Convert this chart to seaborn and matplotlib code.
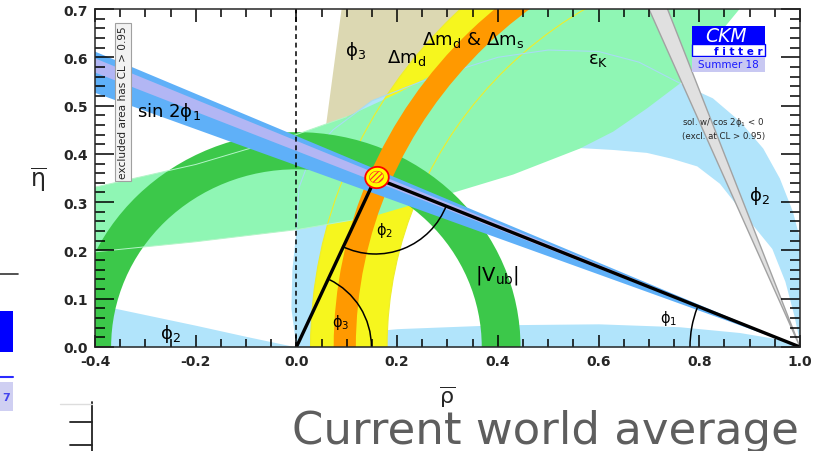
import numpy as np
import matplotlib
matplotlib.use("Agg")
import matplotlib.pyplot as plt
from matplotlib.patches import Wedge, Polygon, Ellipse, Rectangle, Arc
from matplotlib.lines import Line2D
import seaborn as sns

# ---------------- constraint data in the (rho-bar, eta-bar) plane ----------------
triangle_rho = [0.0, 0.157, 1.0]
triangle_eta = [0.0, 0.350, 0.0]

vub_radii = (0.368, 0.445)            # |Vub| ring around (0, 0)
dmd_radii = (0.820, 0.972)            # Δm_d ring around (1, 0)
dms_radii = (0.882, 0.926)            # Δm_d & Δm_s ring around (1, 0)
phi3_deg = (65.0, 82.7)               # φ3 wedge opening from (0, 0)
sin2phi1_slope = (0.376, 0.437)       # η / (1 - ρ) limits of the sin 2φ1 band
sin2phi1_core_slope = (0.406, 0.427)
cos2phi1_neg_deg = (66.8, 69.4)       # excluded cos 2φ1 < 0 solution, from (1, 0)

# εK band edges
epsk_low_rho = [-0.40, -0.20, 0.00, 0.15, 0.30, 0.43, 0.563, 0.629, 0.696, 0.762, 0.827, 0.88]
epsk_low_eta = [0.197, 0.218, 0.243, 0.270, 0.316, 0.357, 0.411, 0.446, 0.494, 0.546, 0.633, 0.70]
epsk_up_rho = [-0.40, -0.20, 0.00, 0.10, 0.20, 0.30, 0.40, 0.457]
epsk_up_eta = [0.331, 0.378, 0.440, 0.477, 0.525, 0.580, 0.653, 0.700]

# φ2 main region: outer and inner edges
phi2_out_rho = [0.000, -0.010, -0.008, 0.000, 0.005, 0.030, 0.073, 0.150, 0.246, 0.400,
                0.500, 0.600, 0.680, 0.762, 0.827, 0.881, 0.927, 0.960, 0.986, 1.000]
phi2_out_eta = [0.000, 0.080, 0.160, 0.240, 0.330, 0.400, 0.450, 0.510, 0.549, 0.600,
                0.615, 0.612, 0.590, 0.546, 0.515, 0.467, 0.411, 0.349, 0.280, 0.224]
phi2_in_rho = [1.000, 0.989, 0.971, 0.945, 0.891, 0.841, 0.796, 0.745, 0.696, 0.630,
               0.563, 0.450, 0.300, 0.200, 0.150, 0.100, 0.060]
phi2_in_eta = [0.010, 0.064, 0.135, 0.203, 0.272, 0.338, 0.374, 0.390, 0.402, 0.408,
               0.412, 0.370, 0.322, 0.290, 0.200, 0.100, 0.000]
# φ2 lower-left wedge and bottom strip
phi2_ll_rho = [-0.40, -0.30, -0.20, -0.10, 0.00]
phi2_ll_eta = [0.089, 0.067, 0.045, 0.022, 0.000]
phi2_bot_rho = [0.00, 0.02, 0.10, 0.20, 0.40, 0.60, 0.76, 0.88, 0.96, 1.00]
phi2_bot_eta = [0.000, 0.012, 0.028, 0.038, 0.046, 0.048, 0.042, 0.030, 0.016, 0.000]

x_ticks = [-0.4, -0.2, 0.0, 0.2, 0.4, 0.6, 0.8, 1.0]
y_ticks = [0.0, 0.1, 0.2, 0.3, 0.4, 0.5, 0.6, 0.7]

# ---------------- colours ----------------
C_PHI2 = "#b1e4fb"
C_PHI3 = "#dcd8b2"
C_DMD = "#f6f61e"
C_DMS = "#ff9900"
C_EPSK = "#8ff6b4"
C_VUB = "#3cc84a"
C_S2B = "#5fb0f8"
C_S2B_CORE = "#b2b6f4"

sns.set_style("ticks")
plt.rcParams["font.family"] = ["DejaVu Sans"]
plt.rcParams["mathtext.fontset"] = "dejavusans"
plt.rcParams["hatch.linewidth"] = 0.8

W, H = 816, 452
fig = plt.figure(figsize=(W / 100, H / 100), dpi=100)
ax = fig.add_axes([95 / W, (H - 348) / H, 705 / W, 338 / H])
ax.set_xlim(-0.4, 1.0)
ax.set_ylim(0.0, 0.7)


def deg(s):
    return np.degrees(np.arctan(s))


# φ3 wedge (lowest layer)
ax.add_patch(Wedge((0, 0), 1.2, phi3_deg[0], phi3_deg[1], fc=C_PHI3, ec="none", zorder=1))

# φ2 regions
ax.add_patch(Polygon(np.column_stack([phi2_out_rho + phi2_in_rho, phi2_out_eta + phi2_in_eta]),
                     closed=True, fc=C_PHI2, ec="none", zorder=2))
ax.fill_between(phi2_ll_rho, 0, phi2_ll_eta, color=C_PHI2, lw=0, zorder=2)
ax.fill_between(phi2_bot_rho, 0, phi2_bot_eta, color=C_PHI2, lw=0, zorder=2)

# Δm_d ring
ax.add_patch(Wedge((1, 0), dmd_radii[1], 90, 180, width=dmd_radii[1] - dmd_radii[0],
                   fc=C_DMD, ec="none", zorder=3))

# εK band
epsk_xy = np.vstack([np.column_stack([epsk_low_rho, epsk_low_eta]),
                     [[epsk_low_rho[-1], 0.75], [epsk_up_rho[-1], 0.75]],
                     np.column_stack([epsk_up_rho[::-1], epsk_up_eta[::-1]])])
ax.add_patch(Polygon(epsk_xy, closed=True, fc=C_EPSK, ec="none", zorder=4))

# contour edges seen through the εK band
for r in dmd_radii:
    ax.add_patch(Arc((1, 0), 2 * r, 2 * r, theta1=90, theta2=180, color="#eeee2a", lw=0.8, zorder=4.5))
ax.plot(phi2_out_rho[3:14], phi2_out_eta[3:14], color="#a8dcf2", lw=0.8, zorder=4.5)

# |Vub| ring
ax.add_patch(Wedge((0, 0), vub_radii[1], 0, 180, width=vub_radii[1] - vub_radii[0],
                   fc=C_VUB, ec="none", zorder=5))
# εK edges seen through the |Vub| ring
ax.plot(epsk_low_rho[:4], epsk_low_eta[:4], color="#b4f5c8", lw=0.7, zorder=5.5)
ax.plot(epsk_up_rho[:4], epsk_up_eta[:4], color="#b4f5c8", lw=0.7, zorder=5.5)

# Δm_d & Δm_s ring
ax.add_patch(Wedge((1, 0), dms_radii[1], 90, 180, width=dms_radii[1] - dms_radii[0],
                   fc=C_DMS, ec="none", zorder=6))

# sin 2φ1 band
ax.add_patch(Wedge((1, 0), 1.8, 180 - deg(sin2phi1_slope[1]), 180 - deg(sin2phi1_slope[0]),
                   fc=C_S2B, ec="none", zorder=7))
ax.add_patch(Wedge((1, 0), 1.8, 180 - deg(sin2phi1_core_slope[1]), 180 - deg(sin2phi1_core_slope[0]),
                   fc=C_S2B_CORE, ec="none", zorder=7))

# excluded cos 2φ1 < 0 solution
ax.add_patch(Wedge((1, 0), 0.9, 180 - cos2phi1_neg_deg[1], 180 - cos2phi1_neg_deg[0],
                   fc="#e0e0e0", ec="#a2a2a2", lw=1.0, zorder=8))

# dashed line at rho = 0
ax.plot([0, 0], [0, 0.7], color="black", lw=1.1, ls=(0, (3.2, 2.4)), zorder=9)

# unitarity triangle
sns.lineplot(x=triangle_rho, y=triangle_eta, sort=False, color="black", lw=2.4,
             ax=ax, zorder=10, solid_joinstyle="miter")

# angle arcs (radius in pixels converted to data units)
sx, sy = 705 / 1.4, 338 / 0.7
apx, apy = triangle_rho[1], triangle_eta[1]
a_left = np.degrees(np.arctan2(-apy * sy, -apx * sx))
a_right = np.degrees(np.arctan2(-apy * sy, (1 - apx) * sx))
ax.add_patch(Arc((apx, apy), 2 * 76 / sx, 2 * 76 / sy, theta1=a_left + 360, theta2=a_right + 360,
                 color="black", lw=1.1, zorder=10))
a_o = np.degrees(np.arctan2(apy * sy, apx * sx))
ax.add_patch(Arc((0, 0), 2 * 75 / sx, 2 * 75 / sy, theta1=0, theta2=a_o, color="black", lw=1.1, zorder=10))
a_1 = np.degrees(np.arctan2(apy * sy, -(1 - apx) * sx))
ax.add_patch(Arc((1, 0), 2 * 110 / sx, 2 * 110 / sy, theta1=a_1, theta2=180, color="black", lw=1.1, zorder=10))

# fit result at the apex
ax.add_patch(Ellipse((apx + 0.003, apy + 0.001), 0.047, 0.044, angle=15,
                     fc="#ffff00", ec="#ff0000", lw=1.3, zorder=11))
ax.add_patch(Ellipse((apx + 0.002, apy + 0.002), 0.028, 0.024, angle=15,
                     fc="none", ec="#ff2a2a", lw=0.4, hatch="//////", zorder=11))

# ---------------- labels inside the frame ----------------
lab = dict(fontsize=13, color="black", ha="center", va="center", zorder=12)
ax.text(0.118, 0.615, "ϕ$_3$", **lab)
ax.text(0.218, 0.600, "Δm$_\\mathrm{d}$", **lab)
ax.text(0.350, 0.638, "Δm$_\\mathrm{d}$ & Δm$_\\mathrm{s}$", **lab)
ax.text(0.599, 0.596, "ε$_\\mathrm{K}$", **lab)
ax.text(0.919, 0.315, "ϕ$_2$", **lab)
ax.text(-0.251, 0.030, "ϕ$_2$", **lab)
ax.text(0.398, 0.151, "|V$_\\mathrm{ub}$|", **dict(lab, fontsize=14))
ax.text(-0.253, 0.489, "sin 2ϕ$_1$", **lab)
small = dict(lab, fontsize=10.5)
ax.text(0.176, 0.244, "ϕ$_2$", **small)
ax.text(0.087, 0.052, "ϕ$_3$", **small)
ax.text(0.740, 0.062, "ϕ$_1$", **small)

ax.text(0.766, 0.468, "sol. w/ cos 2ϕ$_1$ < 0", fontsize=6.2, ha="left", va="center", zorder=12)
ax.text(0.766, 0.437, "(excl. at CL > 0.95)", fontsize=6.2, ha="left", va="center", zorder=12)

# vertical note box
ax.text(0.0397, 0.725, "excluded area has CL > 0.95", transform=ax.transAxes, rotation=90,
        fontsize=7.6, ha="center", va="center", zorder=12,
        bbox=dict(boxstyle="square,pad=0.25", fc="#f2f2f2", ec="#a0a0a0", lw=0.8))

# CKMfitter badge
ax.add_patch(Rectangle((0.847, 0.896), 0.103, 0.054, transform=ax.transAxes,
                       fc="#0000ff", ec="none", zorder=12))
ax.add_patch(Rectangle((0.847, 0.861), 0.103, 0.035, transform=ax.transAxes,
                       fc="white", ec="#0000ff", lw=1.0, zorder=12))
ax.add_patch(Rectangle((0.847, 0.815), 0.103, 0.042, transform=ax.transAxes,
                       fc="#c8c8f2", ec="none", zorder=12))
ax.text(0.895, 0.922, "CKM", transform=ax.transAxes, fontsize=13.5, style="italic",
        color="white", ha="center", va="center", zorder=13)
ax.text(0.947, 0.877, "f i t t e r", transform=ax.transAxes, fontsize=7.5, weight="bold",
        color="#0000ff", ha="right", va="center", zorder=13)
ax.text(0.898, 0.836, "Summer 18", transform=ax.transAxes, fontsize=7.5,
        color="#1a1aff", ha="center", va="center", zorder=13)

# ---------------- axes styling ----------------
ax.set_xticks(x_ticks)
ax.set_xticklabels([f"{v:.1f}" for v in x_ticks])
ax.set_yticks(y_ticks)
ax.set_yticklabels([f"{v:.1f}" for v in y_ticks])
ax.set_xticks(np.arange(-0.4, 1.0001, 0.05), minor=True)
ax.set_yticks(np.arange(0.0, 0.7001, 0.02), minor=True)
ax.tick_params(which="both", direction="in", top=True, right=True, width=1.1, color="black")
ax.tick_params(axis="x", which="major", length=9, pad=5)
ax.tick_params(axis="x", which="minor", length=5.5)
ax.tick_params(axis="y", which="major", length=14, pad=5)
ax.tick_params(axis="y", which="minor", length=7)
for t in ax.get_xticklabels() + ax.get_yticklabels():
    t.set_fontweight("bold")
    t.set_fontsize(10)
for s in ax.spines.values():
    s.set_linewidth(1.1)
    s.set_zorder(20)
ax.xaxis.set_zorder(19)
ax.yaxis.set_zorder(19)
ax.set_xlabel("")
ax.set_ylabel("")

fig.text(38 / W, 1 - 180 / H, r"$\overline{\mathrm{\eta}}$", fontsize=17, ha="center", va="center")
fig.text(447 / W, 1 - 397 / H, r"$\overline{\mathrm{\rho}}$", fontsize=16, ha="center", va="center")

# slide caption
fig.text(799 / W, 1 - 444 / H, "Current world average", fontsize=32.4, color="#5e5e5e",
         ha="right", va="baseline")


# neighbouring slide fragments at the left edge
def px(x, y):
    return x / W, 1 - y / H


fig.add_artist(Line2D([px(0, 0)[0], px(18, 0)[0]], [px(0, 275)[1]] * 2, color="#333333", lw=1.2))
fig.add_artist(Rectangle(px(0, 353), 13 / W, 41 / H, fc="#0000ff", ec="none"))
fig.add_artist(Line2D([0, 13 / W], [px(0, 378)[1]] * 2, color="#2a2aff", lw=1.5))
fig.add_artist(Rectangle(px(0, 412), 13 / W, 29 / H, fc="#cfcff2", ec="none"))
fig.text(2 / W, 1 - 398 / H, "7", fontsize=8, color="#4444ee", weight="bold", ha="left", va="center")
fig.add_artist(Line2D([px(92, 0)[0]] * 2, [px(0, 403)[1], 0], color="#222222", lw=1.3))
fig.add_artist(Line2D([px(70, 0)[0], px(92, 0)[0]], [px(0, 423)[1]] * 2, color="#222222", lw=1.3))
fig.add_artist(Line2D([px(70, 0)[0], px(92, 0)[0]], [px(0, 446)[1]] * 2, color="#222222", lw=1.3))
fig.add_artist(Line2D([px(60, 0)[0], px(92, 0)[0]], [px(0, 405)[1]] * 2, color="#dddddd", lw=1.0))

fig.savefig("out.png", dpi=100)
